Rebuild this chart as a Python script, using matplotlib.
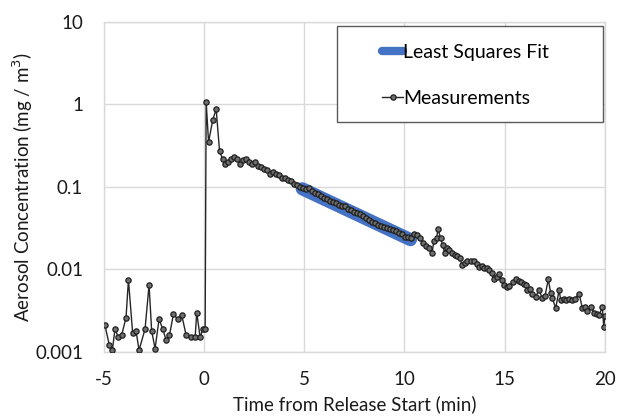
import matplotlib
matplotlib.use("Agg")
import matplotlib.pyplot as plt
from matplotlib.patches import Rectangle

plt.rcParams['font.family'] = ['Lato', 'DejaVu Sans']

# Measurements: time (min) and concentration (mg/m^3)
time_min = [-4.95, -4.73, -4.58, -4.45, -4.28, -4.12, -3.9, -3.78, -3.57, -3.4, -3.25,
            -2.95, -2.75, -2.62, -2.45, -2.25, -2.07, -1.9, -1.73, -1.53, -1.33, -1.12,
            -0.9, -0.67, -0.45, -0.37, -0.2, -0.07, 0.05,
            0.1, 0.22, 0.43, 0.6, 0.77, 0.92, 1.05, 1.2, 1.35, 1.5, 1.65, 1.8, 1.95,
            2.1, 2.25, 2.4, 2.55, 2.7, 2.85, 3.0, 3.15, 3.3, 3.45, 3.6, 3.75, 3.9, 4.05,
            4.2, 4.35, 4.5, 4.65, 4.8, 4.95, 5.1, 5.25, 5.4, 5.55, 5.7, 5.85, 6.0, 6.15,
            6.3, 6.45, 6.6, 6.75, 6.9, 7.05, 7.2, 7.35, 7.5, 7.65, 7.8, 7.95, 8.1, 8.25,
            8.4, 8.55, 8.7, 8.85, 9.0, 9.15, 9.3, 9.45, 9.6, 9.75, 9.9, 10.05, 10.2,
            10.35, 10.5, 10.65, 10.8, 10.95, 11.1, 11.25, 11.38, 11.47, 11.6, 11.68,
            11.8, 11.9, 12.0, 12.1, 12.2, 12.35, 12.5, 12.6, 12.75, 12.88, 13.0, 13.13,
            13.3, 13.47, 13.6, 13.72, 13.85, 13.97, 14.1, 14.22, 14.35, 14.47, 14.6,
            14.72, 14.85, 14.97, 15.1, 15.22, 15.4, 15.55, 15.7, 15.8, 15.95, 16.05,
            16.13, 16.25, 16.38, 16.55, 16.72, 16.88, 17.02, 17.18, 17.3, 17.38, 17.55,
            17.72, 17.8, 17.95, 18.05, 18.2, 18.35, 18.5, 18.72, 18.88, 19.0, 19.13,
            19.3, 19.47, 19.6, 19.72, 19.88, 19.95, 20.0]
conc = [0.0021, 0.0012, 0.00106, 0.0019, 0.0015, 0.0016, 0.0026, 0.0075, 0.0017, 0.0018,
        0.00105, 0.0019, 0.0065, 0.0018, 0.0011, 0.0025, 0.0019, 0.0014, 0.0016, 0.0029,
        0.0025, 0.0028, 0.0016, 0.0015, 0.0015, 0.003, 0.0015, 0.0019, 0.0019,
        1.08, 0.35, 0.65, 0.88, 0.27, 0.22, 0.19, 0.2, 0.22, 0.23, 0.22, 0.19, 0.21,
        0.22, 0.2, 0.19, 0.2, 0.18, 0.175, 0.165, 0.16, 0.145, 0.15, 0.145, 0.14, 0.13,
        0.128, 0.12, 0.118, 0.11, 0.105, 0.1, 0.096, 0.094, 0.096, 0.09, 0.085, 0.082,
        0.078, 0.074, 0.072, 0.068, 0.066, 0.064, 0.06, 0.058, 0.059, 0.054, 0.053,
        0.05, 0.048, 0.047, 0.044, 0.042, 0.04, 0.038, 0.037, 0.035, 0.034, 0.033,
        0.032, 0.031, 0.03, 0.029, 0.028, 0.027, 0.025, 0.025, 0.024, 0.027, 0.026,
        0.024, 0.021, 0.019, 0.018, 0.016, 0.022, 0.024, 0.031, 0.024, 0.02, 0.016,
        0.018, 0.0174, 0.016, 0.015, 0.0145, 0.0138, 0.0113, 0.012, 0.0125, 0.0125,
        0.0125, 0.0115, 0.0107, 0.011, 0.0103, 0.0105, 0.0099, 0.009, 0.0076, 0.0082,
        0.0089, 0.0075, 0.0064, 0.0062, 0.0063, 0.007, 0.0076, 0.0073, 0.0071, 0.0066,
        0.0064, 0.0056, 0.0058, 0.0051, 0.0047, 0.0056, 0.0045, 0.0048, 0.0076, 0.0052,
        0.0045, 0.0034, 0.0056, 0.0043, 0.0044, 0.0043, 0.0044, 0.0043, 0.0044, 0.0051,
        0.0034, 0.0035, 0.0031, 0.0035, 0.003, 0.0029, 0.0028, 0.0035, 0.002, 0.0027]

# Least squares fit endpoints
fit_time = [4.9, 10.3]
fit_conc = [0.095, 0.023]

xticks = [-5, 0, 5, 10, 15, 20]
yticks = [0.001, 0.01, 0.1, 1, 10]
ytick_labels = ['0.001', '0.01', '0.1', '1', '10']

fig = plt.figure(figsize=(6.19, 4.19), dpi=100)
ax = fig.add_axes([0.168, 0.16, 0.809, 0.7875])

blue = '#4472C4'
grid_c = '#d9d9d9'
txt_c = '#1a1a1a'

ax.plot(fit_time, fit_conc, color=blue, lw=9.5, solid_capstyle='round', zorder=2,
        label='Least Squares Fit')
ax.plot(time_min, conc, color='#262626', lw=1.0, marker='o', ms=3.8,
        mfc='#6e6e6e', mec='#1f1f1f', mew=0.9, zorder=3, label='Measurements')

ax.set_yscale('log')
ax.set_xlim(-5, 20)
ax.set_ylim(0.001, 10)
ax.set_xticks(xticks)
ax.set_xticklabels([str(t) for t in xticks])
ax.set_yticks(yticks)
ax.set_yticklabels(ytick_labels)
ax.yaxis.set_minor_locator(matplotlib.ticker.NullLocator())
ax.grid(True, color=grid_c, lw=1.0, zorder=0)
ax.set_axisbelow(True)
for s in ax.spines.values():
    s.set_color(grid_c)
    s.set_linewidth(1.0)
ax.tick_params(axis='both', length=0, labelsize=13.5, colors=txt_c)
ax.tick_params(axis='x', pad=14)
ax.tick_params(axis='y', pad=15)

ax.set_xlabel('Time from Release Start (min)', fontsize=13.5, color=txt_c, labelpad=5)
ax.set_ylabel('Aerosol Concentration (mg / m$^3$)', fontsize=13.5, color=txt_c,
              labelpad=0)

# Legend frame
x0, y0 = 337 / 619, 1 - 122 / 419
w, h = (603 - 337) / 619, (122 - 26) / 419
fig.patches.append(Rectangle((x0, y0), w, h, transform=fig.transFigure,
                             facecolor='white', edgecolor='#595959', lw=1.0, zorder=5))
leg = fig.legend(loc='upper left', bbox_to_anchor=(382 / 619, 1 - 44 / 419),
                 frameon=False, fontsize=14, handlelength=1.1, handletextpad=0.0,
                 labelspacing=1.5, borderpad=0, borderaxespad=0)
leg.set_zorder(6)
for lh in leg.get_lines():
    if lh.get_color() == blue:
        lh.set_linewidth(6.0)

fig.savefig('out.png', dpi=100)
